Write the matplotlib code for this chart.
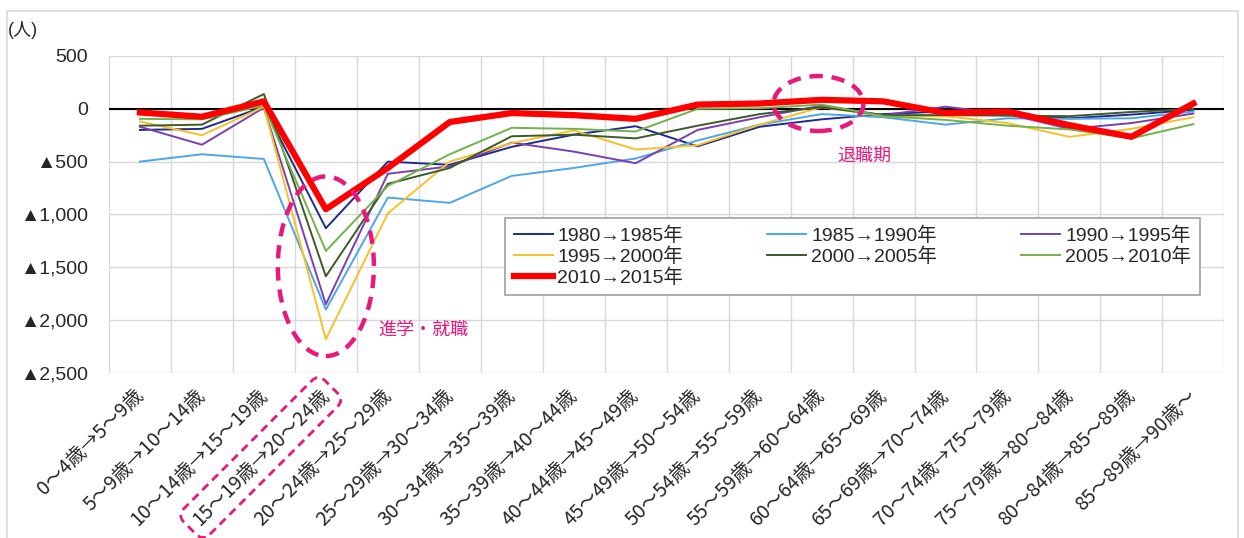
import matplotlib
matplotlib.use('Agg')
import matplotlib.pyplot as plt
from matplotlib.patches import Ellipse, Rectangle
from matplotlib.ticker import FuncFormatter, MultipleLocator, FixedLocator

plt.rcParams['font.family'] = ['Liberation Sans', 'Noto Sans CJK JP', 'DejaVu Sans']

labels = ['0～4歳→5～9歳', '5～9歳→10～14歳', '10～14歳→15～19歳', '15～19歳→20～24歳',
          '20～24歳→25～29歳', '25～29歳→30～34歳', '30～34歳→35～39歳', '35～39歳→40～44歳',
          '40～44歳→45～49歳', '45～49歳→50～54歳', '50～54歳→55～59歳', '55～59歳→60～64歳',
          '60～64歳→65～69歳', '65～69歳→70～74歳', '70～74歳→75～79歳', '75～79歳→80～84歳',
          '80～84歳→85～89歳', '85～89歳→90歳～']

s1980 = [-200, -190, 20, -1130, -500, -530, -360, -245, -165, -355, -170, -100, -50, -25, -55, -90, -55, -10]
s1985 = [-500, -430, -475, -1900, -840, -890, -635, -560, -470, -300, -150, -50, -80, -150, -90, -95, -90, -25]
s1990 = [-170, -340, 10, -1850, -615, -545, -320, -405, -515, -200, -80, 30, -60, 20, -50, -190, -135, -45]
s1995 = [-120, -250, 20, -2180, -990, -500, -325, -205, -385, -345, -150, 15, -70, -70, -135, -265, -190, -80]
s2000 = [-160, -150, 140, -1585, -710, -560, -260, -245, -280, -160, -50, 15, -60, -60, -65, -70, -30, 0]
s2005 = [-95, -100, 30, -1345, -730, -430, -180, -190, -215, 0, 5, 40, -70, -105, -160, -195, -280, -145]
s2010 = [-35, -75, 70, -950, -560, -125, -40, -60, -95, 40, 50, 85, 70, -40, -25, -155, -265, 50]

series = [
    ('1980→1985年', s1980, '#1f2a8c', 1.4),
    ('1985→1990年', s1985, '#4ea6e6', 1.4),
    ('1990→1995年', s1990, '#7a3fb0', 1.4),
    ('1995→2000年', s1995, '#f5c22a', 1.4),
    ('2000→2005年', s2000, '#3d5a2a', 1.4),
    ('2005→2010年', s2005, '#72b24a', 1.4),
    ('2010→2015年', s2010, '#ff0000', 4.5),
]
pink = '#e8197d'

fig = plt.figure(figsize=(12.44, 5.38), dpi=100)
ax = fig.add_axes([0.0876, 0.3067, 0.8966, 0.5893])

x = list(range(len(labels)))
handles = {}
for name, vals, col, lw in series:
    h, = ax.plot(x, vals, color=col, lw=lw, label=name)
    handles[name] = h

ax.axhline(0, color='black', lw=1.5, zorder=1)

ax.set_xlim(-0.5, len(labels) - 0.5)
ax.set_ylim(-2500, 500)
ax.yaxis.set_major_locator(MultipleLocator(500))
ax.yaxis.set_major_formatter(FuncFormatter(lambda v, p: '▲{:,}'.format(int(-v)) if v < 0 else '{:,}'.format(int(v))))
ax.set_xticks(x)
ax.set_xticklabels(labels, rotation=45, ha='right', va='center', rotation_mode='anchor',
                   fontsize=14, family=['Noto Sans CJK JP'], color='#262626')
ax.xaxis.set_minor_locator(FixedLocator([i - 0.5 for i in range(len(labels) + 1)]))
ax.tick_params(axis='x', which='both', length=0, pad=14)
ax.tick_params(axis='y', length=0, labelsize=14, pad=15, labelcolor='#262626')
ax.grid(True, which='minor', axis='x', color='#d9d9d9', lw=1)
ax.grid(True, which='major', axis='y', color='#d9d9d9', lw=1)
ax.set_axisbelow(True)
for sp in ax.spines.values():
    sp.set_visible(False)

order = ['1980→1985年', '1995→2000年', '2010→2015年', '1985→1990年', '2000→2005年', '1990→1995年', '2005→2010年']
leg = ax.legend([handles[k] for k in order], order, ncol=3, loc='upper left',
                bbox_to_anchor=(0.355, 0.256, 0.623, 0.233), mode='expand', borderaxespad=0,
                fontsize=14, fancybox=False, edgecolor='#a0a0a0', framealpha=1,
                handlelength=2.0, handletextpad=0.25, borderpad=0.45, labelspacing=0.12)
leg.get_frame().set_linewidth(1.2)
for t in leg.get_texts():
    t.set_color('#262626')

# annotations
ax.add_patch(Ellipse((3, -1490), 1.55, 1700, fill=False, ec=pink, lw=3.2, ls=(0, (3, 2)), zorder=5))
ax.text(3.85, -2090, '進学・就職', color=pink, fontsize=13, va='center', family=['Noto Sans CJK JP'])
ax.add_patch(Ellipse((10.95, 50), 1.45, 520, fill=False, ec=pink, lw=3.2, ls=(0, (3, 2)), zorder=5))
ax.text(11.25, -445, '退職期', color=pink, fontsize=13, va='center', family=['Noto Sans CJK JP'])
ax.get_xticklabels()[3].set_bbox(dict(boxstyle='round,pad=0.4,rounding_size=0.5', fc='none',
                                      ec=pink, lw=2, ls=(0, (3, 2))))

fig.text(0.006, 0.944, '(人)', fontsize=13, va='center', color='#262626')
fig.patches.append(Rectangle((0.006, -0.05), 0.989, 1.03, transform=fig.transFigure,
                             fill=False, ec='#d9d9d9', lw=1.2))

fig.savefig('out.png', dpi=100)
